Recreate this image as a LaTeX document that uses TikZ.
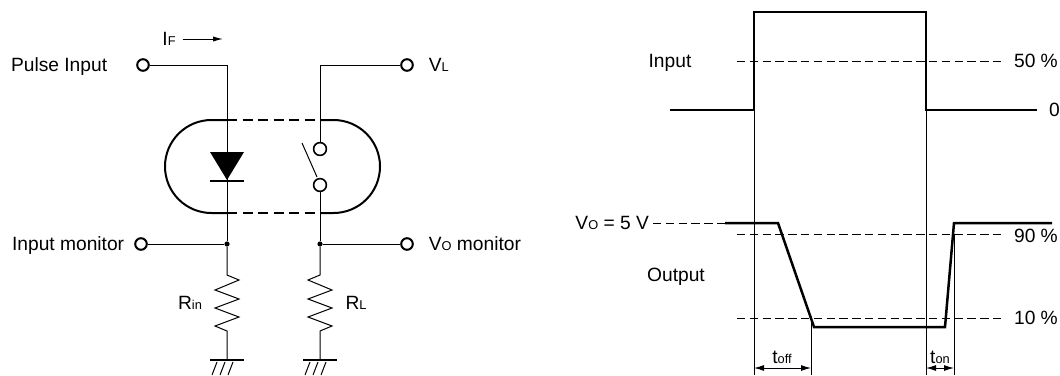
\documentclass[tikz,border=0pt]{standalone}
\usepackage{fontspec}
\setmainfont{Liberation Sans}
\usetikzlibrary{positioning, arrows.meta}
\newcommand{\subtxt}[1]{{\fontsize{6.4}{7}\selectfont #1}}

\tikzset{
  gnd/.pic={
    \draw[line width=1pt] (-17,0) -- (17,0);
    \foreach \x in {-15,-7,1} \draw[line width=0.5pt] (\x,15) -- ++(5,-13);
  }
}

\begin{document}
\begin{tikzpicture}[x=0.5pt, y=-0.5pt, font=\fontsize{9.6}{11}\selectfont,
  lbl/.style={text height=6.8pt, text depth=0pt},
  term/.style={circle, draw, line width=1pt, inner sep=0pt, minimum size=5.8pt},
  contact/.style={circle, draw, line width=0.8pt, inner sep=0pt, minimum size=6.4pt},
  dot/.style={circle, fill, inner sep=0pt, minimum size=2.6pt},
  wire/.style={line width=0.5pt},
  wave/.style={line width=1.25pt},
  guide/.style={line width=0.5pt, dash pattern=on 4.2pt off 2.2pt},
  dim/.style={line width=0.5pt, {Latex[length=5pt,width=3pt]}-{Latex[length=5pt,width=3pt]}}]
\useasboundingbox (0,0) rectangle (1060,375);

% terminals and junctions
\node[term] (pin) at (143,65) {};
\node[lbl, left=11pt of pin] (lpin) {Pulse Input};
\node[term] (mon) at (141,244) {};
\node[lbl, left=1.5pt of mon] (lmon) {Input monitor};
\node[term] (vl) at (407,65) {};
\node[lbl, right=4pt of vl] (lvl) {V\subtxt{L}};
\node[term] (vo) at (407,244) {};
\node[lbl, right=4pt of vo] (lvo) {V\subtxt{O} monitor};
\node[dot] (jin) at (227,244) {};
\node[dot] (jl) at (320,244) {};
\node[contact] (swa) at (320,149) {};
\node[contact] (swb) at (320,185) {};
\coordinate (gin) at (227,360);
\coordinate (gl) at (320,360);

% forward current
\node[lbl] (if) at (169,39) {I\subtxt{F}};
\coordinate (ifend) at (223,39);
\draw[wire, -{Latex[length=5pt,width=2.6pt]}] (if) -- (ifend);

% wiring
\draw[wire] (pin) -| (jin);
\draw[wire] (mon) -- (jin);
\draw[wire] (vl) -| (swa);
\draw[wire] (swb) -- (jl);
\draw[wire] (jl) -- (vo);

% package outline
\draw[line width=1pt] (227,120) -- (211.5,120) arc[start angle=90, end angle=270, radius=23.25pt] -- (227,213);
\draw[line width=1pt] (320,120) -- (333.5,120) arc[start angle=90, end angle=-90, radius=23.25pt] -- (320,213);
\draw[line width=1pt, dash pattern=on 5pt off 2.75pt] (227,120) -- (320,120);
\draw[line width=1pt, dash pattern=on 5pt off 2.75pt] (227,213) -- (320,213);

% LED and switch
\fill (210,152) -- (244,152) -- (227,180) -- cycle;
\draw[line width=1.2pt] (210,181) -- (244,181);
\draw[wire] (302,143) -- (317,177);

% resistors to ground
\draw[wire] (jin) -- ++(0,31) -- ++(12,5) -- ++(-24,10) -- ++(24,9) -- ++(-24,9) -- ++(24,9) -- ++(-24,9) -- ++(12,5) -- (gin);
\draw[wire] (jl) -- ++(0,31) -- ++(-12,5) -- ++(24,10) -- ++(-24,9) -- ++(24,9) -- ++(-24,9) -- ++(24,9) -- ++(-12,5) -- (gl);
\path (gin) pic{gnd};
\path (gl) pic{gnd};
\node[lbl] (rin) at (190,303) {R\subtxt{in}};
\node[lbl] (rl) at (356,303) {R\subtxt{L}};

% timing chart
\draw[guide] (737,61) -- (1002,61);
\draw[guide] (653,223) -- (725,223);
\draw[guide] (737,234) -- (1002,234);
\draw[guide] (737,318) -- (1002,318);
\draw[wave] (670,110) -| (754,12) -| (926,110) -- (1037,110);
\draw[wave] (725,223) -- (778,223) -- (814,327) -- (945,327) -- (954,223) -- (1052,223);
\draw[wire] (754,110) -- (754,375);
\draw[wire] (926,110) -- (926,375);
\draw[wire] (811,318) -- (811,375);
\draw[wire] (954,234) -- (954,375);
\draw[dim] (754,368) -- (811,368);
\draw[dim] (926,368) -- (954,368);

\node[lbl] (input) at (670,61) {Input};
\node[lbl] (output) at (676,275) {Output};
\node[lbl, anchor=east] (vo5) at (656,223) {V\subtxt{O} = 5 V};
\node[lbl, anchor=west] (p50) at (1007,61) {50 \%};
\node[lbl, anchor=west] (p90) at (1007,236) {90 \%};
\node[lbl, anchor=west] (p10) at (1007,318) {10 \%};
\node[lbl, anchor=west] (zero) at (1042,110) {0};
\node[lbl] (toff) at (782,357) {t\subtxt{off}};
\node[lbl] (ton) at (940,357) {t\subtxt{on}};
\end{tikzpicture}
\end{document}
